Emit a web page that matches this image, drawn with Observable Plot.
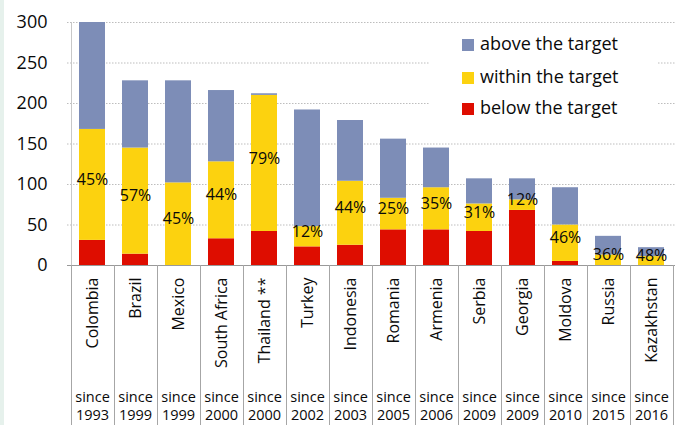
<!DOCTYPE html>
<html>
<head>
<meta charset="utf-8">
<script src="https://cdn.jsdelivr.net/npm/d3@7"></script>
<script src="https://cdn.jsdelivr.net/npm/@observablehq/plot@0.6"></script>
<style>
  html, body { margin: 0; padding: 0; background: #fff; }
  #wrap { position: relative; width: 675px; height: 425px; overflow: hidden; font-family: "Open Sans", "Noto Sans", sans-serif; }
  #strip { position: absolute; left: 0; top: 0; width: 4px; height: 425px; background: #e6f1ec; }
  #legend { position: absolute; left: 430px; top: 25px; width: 228px; height: 96px; background: #fff; }
  .item { position: absolute; left: 32px; height: 22px; font-size: 18px; line-height: 22px; color: #0a0a0a; white-space: nowrap; }
  .sw { display: inline-block; width: 12px; height: 12px; margin-right: 6px; vertical-align: -1px; }
</style>
</head>
<body>
<div id="wrap"></div>
<script>
const countries = ["Colombia","Brazil","Mexico","South Africa","Thailand **","Turkey","Indonesia","Romania","Armenia","Serbia","Georgia","Moldova","Russia","Kazakhstan"];
const sinceYears = [1993,1999,1999,2000,2000,2002,2003,2005,2006,2009,2009,2010,2015,2016];
const below  = [31,14,0,33,42,23,25,44,44,42,68,5,0,0];
const within = [137,131,102,95,168,25,79,39,52,34,13,45,13,11];
const above  = [132,83,126,88,2,144,75,73,49,31,26,46,23,11];
const pctLabels = ["45%","57%","45%","44%","79%","12%","44%","25%","35%","31%","12%","46%","36%","48%"];
const seriesNames = ["below the target","within the target","above the target"];
const seriesColors = ["#de0d00","#fcd20f","#7d8db7"];
const yTicks = [0,50,100,150,200,250,300];

const rows = [];
countries.forEach((c, i) => {
  rows.push({country: c, series: seriesNames[0], value: below[i]});
  rows.push({country: c, series: seriesNames[1], value: within[i]});
  rows.push({country: c, series: seriesNames[2], value: above[i]});
});
const labelRows = countries.map((c, i) => ({country: c, y: below[i] + within[i] / 2, text: pctLabels[i]}));

const chart = Plot.plot({
  width: 675,
  height: 425,
  marginLeft: 67,
  marginRight: 0,
  marginTop: 22,
  marginBottom: 160,
  style: {fontFamily: "'Open Sans', 'Noto Sans', sans-serif", color: "#0a0a0a", background: "transparent"},
  x: {domain: countries, paddingInner: 0.4, paddingOuter: 0.2, label: null},
  y: {domain: [0, 300], label: null},
  color: {domain: seriesNames, range: seriesColors},
  marks: [
    Plot.ruleY(yTicks.filter(d => d > 0), {stroke: "#bdbdbd", strokeDasharray: "1.5,1.5"}),
    Plot.barY(rows, Plot.stackY({x: "country", y: "value", fill: "series", order: seriesNames})),
    Plot.text(labelRows, {x: "country", y: "y", text: "text", fontSize: 16, dy: -5, fill: "#0a0a0a"}),
    Plot.axisY({ticks: yTicks, tickSize: 0, tickPadding: 20, fontSize: 18, label: null}),
    Plot.axisX({tickSize: 0, tickRotate: -90, tickPadding: 12, fontSize: 16, label: null}),
    Plot.text(countries, {x: d => d, text: () => "since", frameAnchor: "bottom", dy: 132, lineAnchor: "middle", fontSize: 14.5, fill: "#0a0a0a"}),
    Plot.text(countries, {x: d => d, text: (d, i) => String(sinceYears[i]), frameAnchor: "bottom", dy: 150, lineAnchor: "middle", fontSize: 14.5, fill: "#0a0a0a"}),
    Plot.ruleY([0], {stroke: "#999"})
  ]
});

// separators of the category table, positioned with the band scale
const xs = chart.scale("x");
const svg = d3.select(chart);
const half = (xs.step - xs.bandwidth) / 2;
const bounds = countries.map(c => xs.apply(c) - half);
bounds.push(xs.apply(countries[countries.length - 1]) + xs.bandwidth + half);
svg.append("g").attr("stroke", "#a6a6a6").attr("stroke-width", 1)
  .selectAll("line").data(bounds).join("line")
  .attr("x1", d => Math.round(d) + 0.5).attr("x2", d => Math.round(d) + 0.5)
  .attr("y1", 265).attr("y2", 425);
// left axis line
const ys = chart.scale("y");
svg.append("line").attr("stroke", "#c8c8c8")
  .attr("x1", Math.round(bounds[0]) + 0.5).attr("x2", Math.round(bounds[0]) + 0.5)
  .attr("y1", ys.apply(300)).attr("y2", ys.apply(0));

const wrap = document.getElementById("wrap");
wrap.appendChild(chart);
const strip = document.createElement("div"); strip.id = "strip"; wrap.appendChild(strip);
const legend = document.createElement("div"); legend.id = "legend";
const order = [2, 1, 0];
const tops = [7, 40, 71];
order.forEach((k, j) => {
  const it = document.createElement("div");
  it.className = "item";
  it.style.top = tops[j] + "px";
  it.innerHTML = `<span class="sw" style="background:${seriesColors[k]}"></span>${seriesNames[k]}`;
  legend.appendChild(it);
});
wrap.appendChild(legend);
</script>
</body>
</html>
